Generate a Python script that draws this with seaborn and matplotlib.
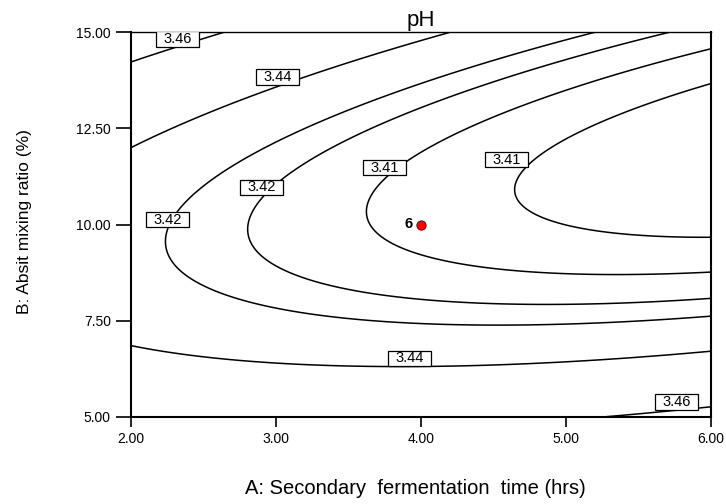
import numpy as np
import pandas as pd
import matplotlib
matplotlib.use("Agg")
import matplotlib.pyplot as plt
from matplotlib.path import Path
import seaborn as sns

# ---- data ----
# quadratic response-surface model in coded units: a=(A-4)/2, b=(B-10)/5
coef_names = ["intercept", "A", "B", "AB", "A^2", "B^2"]
coef_values = [3.4185, -0.00946, -0.00665, -0.01366, 0.00438, 0.0305]

contour_levels = [3.4149, 3.4203, 3.4257, 3.4300, 3.44, 3.46]
contour_labels = ["3.41", "3.41", "3.42", "3.42", "3.44", "3.46"]

x_ticks = [2.0, 3.0, 4.0, 5.0, 6.0]
y_ticks = [5.0, 7.5, 10.0, 12.5, 15.0]
x_range = [2.0, 6.0]
y_range = [5.0, 15.0]

design_A = [4.0]
design_B = [10.0]
design_reps = [6]

title = "pH"
x_label = "A: Secondary  fermentation  time (hrs)"
y_label = "B: Absit mixing ratio (%)"

# label anchor positions (data coords) for contour labels
label_positions = [(2.32, 14.82), (3.01, 13.83), (2.25, 10.12), (2.90, 10.97),
                   (3.75, 11.47), (4.59, 11.68), (3.92, 6.53), (5.76, 5.39)]

# ---- style ----
sns.set_style("white")
plt.rcParams["font.family"] = ["Liberation Sans", "DejaVu Sans"]

fig = plt.figure(figsize=(7.26, 5.04), dpi=100)
ax = fig.add_axes([131 / 726, 1 - 417 / 504, 580 / 726, 385 / 504])

A = np.linspace(x_range[0], x_range[1], 241)
B = np.linspace(y_range[0], y_range[1], 241)
AA, BB = np.meshgrid(A, B)
a = (AA - 4.0) / 2.0
b = (BB - 10.0) / 5.0
c = dict(zip(coef_names, coef_values))
Z = (c["intercept"] + c["A"] * a + c["B"] * b + c["AB"] * a * b
     + c["A^2"] * a ** 2 + c["B^2"] * b ** 2)

cs = ax.contour(AA, BB, Z, levels=contour_levels, colors="black", linewidths=1.1)
fmt = dict(zip(cs.levels, contour_labels))
texts = ax.clabel(cs, fmt=fmt, inline=False, manual=label_positions, fontsize=10.5,
                  colors="black")


def label_box(x0, y0, width, height, mutation_size):
    px = 0.5 * mutation_size
    py = 0.04 * mutation_size
    verts = [(x0 - px, y0 - py), (x0 + width + px, y0 - py),
             (x0 + width + px, y0 + height + py), (x0 - px, y0 + height + py),
             (x0 - px, y0 - py)]
    return Path(verts, closed=True)


for t, pos in zip(texts, label_positions):
    t.set_rotation(0)
    t.set_position(pos)
    t.set_ha("center")
    t.set_va("center")
    t.set_zorder(5)
    t.set_bbox(dict(boxstyle=label_box, fc="white", ec="black", lw=0.9))

pts = pd.DataFrame({"A": design_A, "B": design_B, "n": design_reps})
sns.scatterplot(data=pts, x="A", y="B", ax=ax, color="red", edgecolor="#550000",
                s=45, linewidth=0.6, zorder=6, legend=False)
for _, r in pts.iterrows():
    ax.annotate(str(int(r["n"])), (r["A"], r["B"]), xytext=(-6, 0),
                textcoords="offset points", ha="right", va="center",
                fontsize=10.5, fontweight="bold", color="black", zorder=6)

ax.set_xlim(*x_range)
ax.set_ylim(*y_range)
ax.set_xticks(x_ticks)
ax.set_yticks(y_ticks)
ax.set_xticklabels([f"{v:.2f}" for v in x_ticks])
ax.set_yticklabels([f"{v:.2f}" for v in y_ticks])
ax.tick_params(axis="x", direction="out", length=7.5, width=1.2, pad=3.5,
               labelsize=10, colors="black", bottom=True)
ax.tick_params(axis="y", direction="out", length=11, width=1.2, pad=3.5,
               labelsize=10, colors="black", left=True)
for side in ["left", "bottom", "right"]:
    ax.spines[side].set_linewidth(1.5)
    ax.spines[side].set_color("black")
ax.spines["top"].set_linewidth(1.0)
ax.spines["top"].set_color("black")

ax.set_title(title, fontsize=16, pad=4, color="black")
ax.set_xlabel(x_label, fontsize=14.5, va="center", color="black")
ax.xaxis.set_label_coords((415 - 131) / 580, (417 - 489) / 385)
ax.set_ylabel(y_label, fontsize=12.5, va="center", ha="center", color="black")
ax.yaxis.set_label_coords((25 - 131) / 580, (417 - 221.5) / 385)

fig.savefig("out.png", dpi=100)
